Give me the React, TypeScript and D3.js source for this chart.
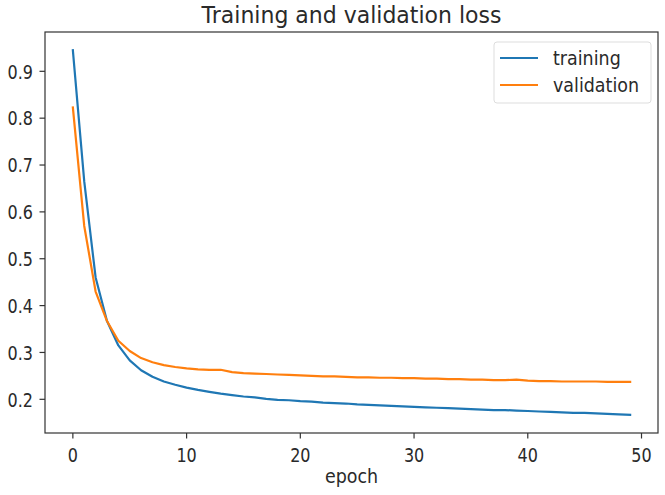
import React from "react";
import * as d3 from "d3";

const epochs: number[] = Array.from({ length: 50 }, (_, i) => i);

const training: number[] = [
  0.945, 0.665, 0.46, 0.367, 0.315, 0.283, 0.262, 0.248, 0.238, 0.231,
  0.225, 0.22, 0.216, 0.212, 0.209, 0.206, 0.204, 0.201, 0.199, 0.198,
  0.196, 0.195, 0.193, 0.192, 0.191, 0.189, 0.188, 0.187, 0.186, 0.185,
  0.184, 0.183, 0.182, 0.181, 0.18, 0.179, 0.178, 0.177, 0.177, 0.176,
  0.175, 0.174, 0.173, 0.172, 0.171, 0.171, 0.17, 0.169, 0.168, 0.167,
];

const validation: number[] = [
  0.823, 0.57, 0.43, 0.367, 0.325, 0.303, 0.288, 0.279, 0.273, 0.269,
  0.266, 0.264, 0.263, 0.263, 0.258, 0.256, 0.255, 0.254, 0.253, 0.252,
  0.251, 0.25, 0.249, 0.249, 0.248, 0.247, 0.247, 0.246, 0.246, 0.245,
  0.245, 0.244, 0.244, 0.243, 0.243, 0.242, 0.242, 0.241, 0.241, 0.242,
  0.24, 0.239, 0.239, 0.238, 0.238, 0.238, 0.238, 0.237, 0.237, 0.237,
];

const xTicks: number[] = [0, 10, 20, 30, 40, 50];
const yTicks: number[] = [0.2, 0.3, 0.4, 0.5, 0.6, 0.7, 0.8, 0.9];
const seriesNames: string[] = ["training", "validation"];
const seriesColors: string[] = ["#1f77b4", "#ff7f0e"];

const W = 665;
const H = 495;
const L = 45;
const R = 658;
const T = 32;
const B = 433;
const FONT = "DejaVu Sans, sans-serif";
const TICK_FS = 16;
const TICK_SY = 1.25;
const TEXT_COLOR = "#2a2a2a";

export default function App() {
  const xMin = d3.min(epochs)!;
  const xMax = d3.max(epochs)!;
  const xPad = (xMax - xMin) * 0.05;
  const all = training.concat(validation);
  const yMin = d3.min(all)!;
  const yMax = d3.max(all)!;
  const yPad = (yMax - yMin) * 0.05;

  const x = d3.scaleLinear().domain([xMin - xPad, xMax + xPad]).range([L, R]);
  const y = d3.scaleLinear().domain([yMin - yPad, yMax + yPad]).range([B, T]);

  const line = d3
    .line<number>()
    .x((_, i) => x(epochs[i]))
    .y((d) => y(d));

  const series = [training, validation];
  const digitHalf = (0.73 * TICK_FS * TICK_SY) / 2;

  return (
    <svg
      width={W}
      height={H}
      style={{ position: "absolute", left: 0, top: 0, background: "#fff" }}
    >
      <rect x={0} y={0} width={W} height={H} fill="#fff" />
      <text
        transform={`translate(${(L + R) / 2},23) scale(1,1.05)`}
        textAnchor="middle"
        fontFamily={FONT}
        fontSize={22}
        fill={TEXT_COLOR}
      >
        Training and validation loss
      </text>

      {series.map((s, k) => (
        <path
          key={k}
          d={line(s) || ""}
          fill="none"
          stroke={seriesColors[k]}
          strokeWidth={2.2}
          strokeLinejoin="round"
          strokeLinecap="square"
        />
      ))}

      <rect
        x={L}
        y={T}
        width={R - L}
        height={B - T}
        fill="none"
        stroke="#333"
        strokeWidth={1.2}
      />

      {xTicks.map((t) => (
        <g key={"x" + t}>
          <line x1={x(t)} x2={x(t)} y1={B} y2={B + 5.5} stroke="#333" strokeWidth={1.2} />
          <text
            transform={`translate(${x(t)},462) scale(1,${TICK_SY})`}
            textAnchor="middle"
            fontFamily={FONT}
            fontSize={TICK_FS}
            fill={TEXT_COLOR}
          >
            {t}
          </text>
        </g>
      ))}

      {yTicks.map((t) => (
        <g key={"y" + t}>
          <line x1={L - 5.5} x2={L} y1={y(t)} y2={y(t)} stroke="#333" strokeWidth={1.2} />
          <text
            transform={`translate(${L - 12},${y(t) + digitHalf}) scale(1,${TICK_SY})`}
            textAnchor="end"
            fontFamily={FONT}
            fontSize={TICK_FS}
            fill={TEXT_COLOR}
          >
            {t.toFixed(1)}
          </text>
        </g>
      ))}

      <text
        transform={`translate(${(L + R) / 2},483) scale(1,1.15)`}
        textAnchor="middle"
        fontFamily={FONT}
        fontSize={17.5}
        fill={TEXT_COLOR}
      >
        epoch
      </text>

      <g>
        <rect
          x={494}
          y={42}
          width={157}
          height={61}
          rx={3}
          fill="#fff"
          fillOpacity={0.8}
          stroke="#ddd"
          strokeWidth={1}
        />
        {seriesNames.map((n, k) => (
          <g key={n}>
            <line
              x1={500}
              x2={538}
              y1={58 + k * 27}
              y2={58 + k * 27}
              stroke={seriesColors[k]}
              strokeWidth={2.2}
            />
            <text
              transform={`translate(553,${58 + k * 27 + 0.36 * 17.5 * 1.12}) scale(1,1.12)`}
              fontFamily={FONT}
              fontSize={17.5}
              fill={TEXT_COLOR}
            >
              {n}
            </text>
          </g>
        ))}
      </g>
    </svg>
  );
}
